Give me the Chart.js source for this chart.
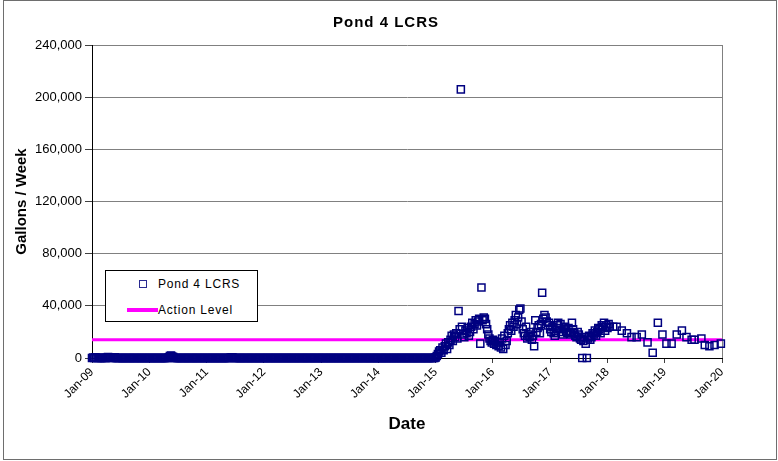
<!DOCTYPE html>
<html>
<head>
<meta charset="utf-8">
<title>Pond 4 LCRS</title>
<script src="https://cdn.jsdelivr.net/npm/chart.js"></script>
<style>
  body { margin: 0; background: #fff; }
  #wrap { position: relative; width: 778px; height: 461px; }
  #chart { position: absolute; left: 0; top: 0; }
  #frame {
    position: absolute; left: 3px; top: 0; width: 772px; height: 458px;
    border: 1px solid #6e6e6e; pointer-events: none;
  }
  #title {
    position: absolute; left: 0; top: 13px; width: 772px; text-align: center;
    font: bold 15px Arial, "Liberation Sans", sans-serif; letter-spacing: 1px; color: #000;
  }
  #legend {
    position: absolute; left: 105px; top: 270px; width: 151px; height: 50px;
    border: 1px solid #000; background: #fff;
    font: 12px Arial, "Liberation Sans", sans-serif; letter-spacing: 0.8px; color: #000;
  }
  .item { position: absolute; left: 0; height: 14px; line-height: 14px; }
  .item span { position: absolute; left: 52px; white-space: nowrap; }
  .marker {
    position: absolute; left: 33px; top: 3px; width: 6px; height: 6px;
    border: 1.5px solid #2a2a90;
  }
  .swatch { position: absolute; left: 21px; top: 5px; width: 31px; height: 4px; background: #ff00ff; }
</style>
</head>
<body>
<div id="wrap">
  <canvas id="chart" width="778" height="461"></canvas>
  <div id="title">Pond 4 LCRS</div>
  <div id="legend">
    <div class="item" style="top:6px"><div class="marker"></div><span>Pond 4 LCRS</span></div>
    <div class="item" style="top:32px"><div class="swatch"></div><span>Action Level</span></div>
  </div>
  <div id="frame"></div>
</div>
<script>
// Weekly LCRS flow readings, x as decimal year (monthly from 2018)
const readingYear = [
  2009.00, 2009.02, 2009.04, 2009.06, 2009.08, 2009.10, 2009.12, 2009.14, 2009.16, 2009.18, 2009.20, 2009.22, 2009.24, 2009.26, 2009.28, 2009.30, 2009.32, 2009.34, 2009.36, 2009.38, 2009.40, 2009.42, 2009.44, 2009.46, 2009.48,
  2009.50, 2009.52, 2009.54, 2009.56, 2009.58, 2009.60, 2009.62, 2009.64, 2009.66, 2009.68, 2009.70, 2009.72, 2009.74, 2009.76, 2009.78, 2009.80, 2009.82, 2009.84, 2009.86, 2009.88, 2009.90, 2009.92, 2009.94, 2009.96, 2009.98,
  2010.00, 2010.02, 2010.04, 2010.06, 2010.08, 2010.10, 2010.12, 2010.14, 2010.16, 2010.18, 2010.20, 2010.22, 2010.24, 2010.26, 2010.28, 2010.30, 2010.32, 2010.34, 2010.36, 2010.38, 2010.40, 2010.42, 2010.44, 2010.46, 2010.48,
  2010.50, 2010.52, 2010.54, 2010.56, 2010.58, 2010.60, 2010.62, 2010.64, 2010.66, 2010.68, 2010.70, 2010.72, 2010.74, 2010.76, 2010.78, 2010.80, 2010.82, 2010.84, 2010.86, 2010.88, 2010.90, 2010.92, 2010.94, 2010.96, 2010.98,
  2011.00, 2011.02, 2011.04, 2011.06, 2011.08, 2011.10, 2011.12, 2011.14, 2011.16, 2011.18, 2011.20, 2011.22, 2011.24, 2011.26, 2011.28, 2011.30, 2011.32, 2011.34, 2011.36, 2011.38, 2011.40, 2011.42, 2011.44, 2011.46, 2011.48,
  2011.50, 2011.52, 2011.54, 2011.56, 2011.58, 2011.60, 2011.62, 2011.64, 2011.66, 2011.68, 2011.70, 2011.72, 2011.74, 2011.76, 2011.78, 2011.80, 2011.82, 2011.84, 2011.86, 2011.88, 2011.90, 2011.92, 2011.94, 2011.96, 2011.98,
  2012.00, 2012.02, 2012.04, 2012.06, 2012.08, 2012.10, 2012.12, 2012.14, 2012.16, 2012.18, 2012.20, 2012.22, 2012.24, 2012.26, 2012.28, 2012.30, 2012.32, 2012.34, 2012.36, 2012.38, 2012.40, 2012.42, 2012.44, 2012.46, 2012.48,
  2012.50, 2012.52, 2012.54, 2012.56, 2012.58, 2012.60, 2012.62, 2012.64, 2012.66, 2012.68, 2012.70, 2012.72, 2012.74, 2012.76, 2012.78, 2012.80, 2012.82, 2012.84, 2012.86, 2012.88, 2012.90, 2012.92, 2012.94, 2012.96, 2012.98,
  2013.00, 2013.02, 2013.04, 2013.06, 2013.08, 2013.10, 2013.12, 2013.14, 2013.16, 2013.18, 2013.20, 2013.22, 2013.24, 2013.26, 2013.28, 2013.30, 2013.32, 2013.34, 2013.36, 2013.38, 2013.40, 2013.42, 2013.44, 2013.46, 2013.48,
  2013.50, 2013.52, 2013.54, 2013.56, 2013.58, 2013.60, 2013.62, 2013.64, 2013.66, 2013.68, 2013.70, 2013.72, 2013.74, 2013.76, 2013.78, 2013.80, 2013.82, 2013.84, 2013.86, 2013.88, 2013.90, 2013.92, 2013.94, 2013.96, 2013.98,
  2014.00, 2014.02, 2014.04, 2014.06, 2014.08, 2014.10, 2014.12, 2014.14, 2014.16, 2014.18, 2014.20, 2014.22, 2014.24, 2014.26, 2014.28, 2014.30, 2014.32, 2014.34, 2014.36, 2014.38, 2014.40, 2014.42, 2014.44, 2014.46, 2014.48,
  2014.50, 2014.52, 2014.54, 2014.56, 2014.58, 2014.60, 2014.62, 2014.64, 2014.66, 2014.68, 2014.70, 2014.72, 2014.74, 2014.76, 2014.78, 2014.80, 2014.82, 2014.84, 2014.86, 2014.88, 2014.90, 2014.92, 2014.94, 2014.96, 2014.98,
  2015.00, 2015.02, 2015.04, 2015.06, 2015.08, 2015.10, 2015.12, 2015.14, 2015.16, 2015.18, 2015.20, 2015.22, 2015.24, 2015.26, 2015.28, 2015.30, 2015.32, 2015.34, 2015.36, 2015.38, 2015.40, 2015.42, 2015.44, 2015.46, 2015.48,
  2015.50, 2015.52, 2015.54, 2015.56, 2015.58, 2015.60, 2015.62, 2015.64, 2015.66, 2015.68, 2015.70, 2015.72, 2015.74, 2015.76, 2015.78, 2015.80, 2015.82, 2015.84, 2015.86, 2015.88, 2015.90, 2015.92, 2015.94, 2015.96, 2015.98,
  2016.00, 2016.02, 2016.04, 2016.06, 2016.08, 2016.10, 2016.12, 2016.14, 2016.16, 2016.18, 2016.20, 2016.22, 2016.24, 2016.26, 2016.28, 2016.30, 2016.32, 2016.34, 2016.36, 2016.38, 2016.40, 2016.42, 2016.44, 2016.46, 2016.48,
  2016.50, 2016.52, 2016.54, 2016.56, 2016.58, 2016.60, 2016.62, 2016.64, 2016.66, 2016.68, 2016.70, 2016.72, 2016.74, 2016.76, 2016.78, 2016.80, 2016.82, 2016.84, 2016.86, 2016.88, 2016.90, 2016.92, 2016.94, 2016.96, 2016.98,
  2017.00, 2017.02, 2017.04, 2017.06, 2017.08, 2017.10, 2017.12, 2017.14, 2017.16, 2017.18, 2017.20, 2017.22, 2017.24, 2017.26, 2017.28, 2017.30, 2017.32, 2017.34, 2017.36, 2017.38, 2017.40, 2017.42, 2017.44, 2017.46, 2017.48,
  2017.50, 2017.52, 2017.54, 2017.56, 2017.58, 2017.60, 2017.62, 2017.64, 2017.66, 2017.68, 2017.70, 2017.72, 2017.74, 2017.76, 2017.78, 2017.80, 2017.82, 2017.84, 2017.86, 2017.88, 2017.90, 2017.92, 2017.94, 2017.96, 2017.98,
  2018.00, 2018.02, 2018.04, 2018.10, 2018.16, 2018.25, 2018.34, 2018.42, 2018.51, 2018.60, 2018.70, 2018.79, 2018.88, 2018.96,
  2019.03, 2019.12, 2019.21, 2019.30, 2019.38, 2019.47, 2019.52, 2019.64, 2019.70, 2019.78, 2019.87, 2019.98
];

const gallonsPerWeek = [
  0, 300, 0, 500, 0, 0, 200, 0, 0, 0, 0, 0, 0, 300, 800, 500, 600, 0, 0, 400, 500, 0, 0, 0, 0,
  0, 0, 0, 0, 0, 0, 0, 0, 0, 0, 0, 0, 0, 0, 0, 0, 0, 0, 0, 0, 0, 0, 0, 0, 0,
  0, 0, 0, 0, 0, 0, 0, 0, 0, 0, 0, 0, 0, 0, 0, 0, 0, 600, 1500, 1800, 1200, 800, 0, 0, 0,
  0, 0, 0, 0, 0, 0, 0, 0, 0, 0, 0, 0, 0, 0, 0, 0, 0, 0, 0, 0, 0, 0, 0, 0, 0,
  0, 0, 0, 0, 0, 0, 0, 0, 0, 0, 0, 0, 0, 0, 0, 0, 0, 0, 0, 0, 0, 300, 600, 300, 0,
  0, 0, 0, 0, 0, 0, 0, 0, 0, 0, 0, 0, 0, 0, 0, 0, 0, 0, 0, 0, 0, 0, 0, 0, 0,
  0, 0, 0, 0, 0, 0, 0, 0, 0, 0, 0, 0, 0, 0, 0, 0, 0, 0, 0, 0, 0, 0, 0, 0, 0,
  0, 0, 0, 0, 0, 0, 0, 0, 0, 0, 0, 0, 0, 0, 0, 0, 0, 0, 0, 0, 0, 0, 0, 0, 0,
  0, 0, 0, 0, 0, 0, 0, 0, 0, 0, 0, 0, 0, 0, 0, 0, 0, 0, 0, 0, 0, 0, 0, 0, 0,
  0, 0, 0, 0, 0, 0, 0, 0, 0, 0, 0, 0, 0, 0, 0, 0, 0, 0, 0, 0, 0, 0, 0, 0, 0,
  0, 0, 0, 0, 0, 0, 0, 0, 0, 0, 0, 0, 0, 0, 0, 0, 0, 0, 0, 0, 0, 0, 0, 0, 0,
  0, 0, 0, 0, 0, 0, 0, 0, 0, 0, 0, 0, 0, 0, 0, 0, 0, 0, 0, 0, 0, 0, 0, 0, 0,
  500, 1500, 3000, 5000, 6000, 4000, 8000, 6000, 9000, 11000, 7000, 12000, 10000, 14000, 17000, 13000, 18000, 16000, 19000, 15000, 36000, 22000, 206000, 24000, 18000,
  16000, 21000, 19000, 23000, 17000, 20000, 24000, 27000, 22000, 26000, 29000, 25000, 28000, 30000, 11000, 54000, 29000, 31000, 30000, 26000, 22000, 18000, 15000, 13000, 12000,
  14000, 11000, 13000, 10000, 12000, 9000, 12000, 8000, 15000, 7000, 17000, 10000, 13000, 19000, 22000, 25000, 21000, 27000, 24000, 29000, 33000, 26000, 31000, 37000, 38000,
  28000, 22000, 19000, 17000, 24000, 15000, 18000, 16000, 20000, 14000, 17000, 9000, 29000, 20000, 23000, 25000, 19000, 26000, 50000, 30000, 33000, 31000, 28000, 25000, 27000,
  22000, 20000, 24000, 19000, 17000, 21000, 25000, 27000, 23000, 26000, 20000, 18000, 22000, 24000, 21000, 19000, 23000, 20000, 18000, 27000, 22000, 19000, 17000, 16000, 20000,
  18000, 15000, 14000, 0, 13000, 16000, 11000, 0, 15000, 17000, 14000, 16000, 19000, 18000, 21000, 17000, 20000, 23000, 22000, 19000, 25000, 24000, 27000, 21000, 25000,
  23000, 26000, 24000, 24000, 24000, 21000, 19000, 16000, 16000, 18000, 12000, 4000, 27000, 18000,
  11000, 11000, 18000, 21000, 16000, 14000, 14000, 15000, 10000, 9000, 10000, 11000
];

const actionLevel = 14000;
const yearRange = [2009, 2020];
const yTicks = [0, 40000, 80000, 120000, 160000, 200000, 240000];

const points = readingYear.map((x, i) => ({ x: x, y: gallonsPerWeek[i] }));
const actionLine = yearRange.map(x => ({ x: x, y: actionLevel }));

Chart.defaults.font.family = 'Arial, "Liberation Sans", sans-serif';
Chart.defaults.color = '#000';

new Chart(document.getElementById('chart').getContext('2d'), {
  type: 'scatter',
  data: {
    datasets: [
      {
        label: 'Pond 4 LCRS',
        data: points,
        pointStyle: 'rect',
        pointRadius: 5,
        borderColor: '#000080',
        backgroundColor: 'rgba(0,0,0,0)',
        borderWidth: 1.5,
        clip: false,
        order: 1
      },
      {
        label: 'Action Level',
        type: 'line',
        data: actionLine,
        borderColor: '#ff00ff',
        borderWidth: 3,
        pointRadius: 0,
        fill: false,
        order: 2
      }
    ]
  },
  options: {
    responsive: false,
    animation: false,
    layout: { padding: { left: 6, right: 56, top: 45, bottom: 20 } },
    scales: {
      x: {
        type: 'linear',
        min: yearRange[0],
        max: yearRange[1],
        afterFit: scale => { scale.height = 83; },
        ticks: {
          stepSize: 1,
          autoSkip: false,
          maxRotation: 45,
          minRotation: 45,
          padding: 2,
          font: { size: 12 },
          callback: v => 'Jan-' + String(v).slice(2)
        },
        grid: {
          color: ctx => (ctx.tick && ctx.tick.value === yearRange[1]) ? '#808080' : 'rgba(0,0,0,0)',
          tickColor: '#404040',
          tickLength: 5
        },
        border: { color: '#000', width: 1 },
        title: {
          display: true,
          text: 'Date',
          font: { size: 17, weight: 'bold' },
          padding: { top: 0, bottom: 6 }
        }
      },
      y: {
        min: 0,
        max: 240000,
        afterFit: scale => { scale.width = 86; },
        afterBuildTicks: scale => { scale.ticks = yTicks.map(v => ({ value: v })); },
        ticks: {
          padding: 3,
          font: { size: 13 },
          callback: v => v.toLocaleString('en-US')
        },
        grid: {
          color: '#808080',
          tickColor: '#404040',
          tickLength: 7
        },
        border: { color: '#000', width: 1 },
        title: {
          display: true,
          text: 'Gallons / Week',
          font: { size: 15, weight: 'bold' },
          padding: { top: 7, bottom: 0 }
        }
      }
    },
    plugins: {
      legend: { display: false },
      tooltip: { enabled: false },
      title: { display: false }
    }
  }
});
</script>
</body>
</html>
